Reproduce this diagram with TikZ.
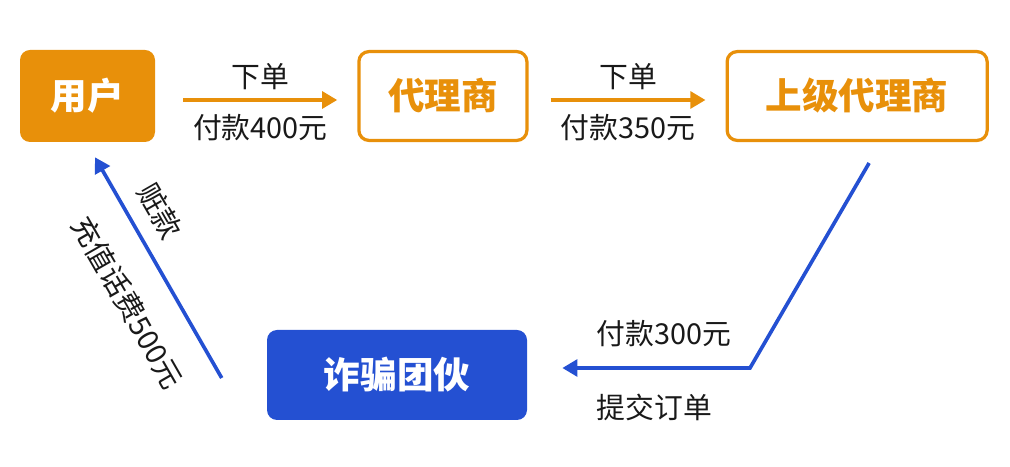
\documentclass[tikz,border=0pt]{standalone}
\usepackage{fontspec}
\setmainfont{Noto Sans CJK SC}
\usepackage{tikz}
\usetikzlibrary{positioning}
\usetikzlibrary{arrows.meta}

\definecolor{orangec}{HTML}{E8900A}
\definecolor{bluec}{HTML}{2450D2}

\tikzset{
	boxtext/.style = {font=\fontsize{26}{28}\selectfont\bfseries},
	labeltext/.style = {font=\fontsize{20.5}{22}\selectfont, text=black!90},
	orangeflow/.style = {orangec, line width=2.6pt, -{Triangle[length=0.38cm,width=0.42cm]}},
	blueflow/.style = {bluec, line width=2.6pt, -{Triangle[length=0.38cm,width=0.42cm]}}
}

\begin{document}
\begin{tikzpicture}
		\useasboundingbox (0,0) rectangle (25.25,-11.675);
		\node[boxtext, fill = orangec, text = white, rectangle, rounded corners = 0.25cm, minimum width = 3.375cm, minimum height = 2.3cm] at (2.1875,-2.4) (user) {用户};
		\node[boxtext, right = 5.05cm of user, fill = white, draw = orangec, line width = 2.3pt, text = orangec, rectangle, rounded corners = 0.25cm, minimum width = 4.2cm, minimum height = 2.22cm] (agent) {代理商};
		\node[boxtext, right = 4.925cm of agent, fill = white, draw = orangec, line width = 2.3pt, text = orangec, rectangle, rounded corners = 0.25cm, minimum width = 6.5cm, minimum height = 2.22cm] (upper) {上级代理商};
		\node[boxtext, fill = bluec, text = white, rectangle, rounded corners = 0.25cm, minimum width = 6.5cm, minimum height = 2.25cm] at (9.925,-9.375) (fraud) {诈骗团伙};
		\coordinate (bend) at (18.75,-9.2);
		% top row
		\draw[orangeflow] ([xshift=0.7cm,yshift=-0.1cm]user.east) to node[labeltext, above = 0.1cm] (order1) {下单} node[labeltext, below = 0.2cm] (pay1) {付款400元} ([xshift=-0.5cm,yshift=-0.1cm]agent.west);
		\draw[orangeflow] ([xshift=0.55cm,yshift=-0.1cm]agent.east) to node[labeltext, above = 0.1cm] (order2) {下单} node[labeltext, below = 0.2cm] (pay2) {付款350元} ([xshift=-0.5cm,yshift=-0.1cm]upper.west);
		% back to the fraud group
		\draw[blueflow] ([xshift=0.3cm,yshift=-0.525cm]upper.south) -- (bend) -- ([xshift=0.875cm,yshift=0.175cm]fraud.east);
		\node[labeltext, anchor = west] at (14.8,-8.35) (pay3) {付款300元};
		\node[labeltext, anchor = west] at (14.8,-10.18) (submit) {提交订单};
		% back to the user
		\draw[blueflow] ([xshift=-1.125cm,yshift=-0.075cm]fraud.west) to node[labeltext, sloped, pos = 0.69, above = 0.25cm] (dirty) {赃款} node[labeltext, sloped, pos = 0.44, below = 0.6cm] (recharge) {充值话费500元} ([xshift=0.1875cm,yshift=-0.375cm]user.south);
	\end{tikzpicture}
\end{document}
